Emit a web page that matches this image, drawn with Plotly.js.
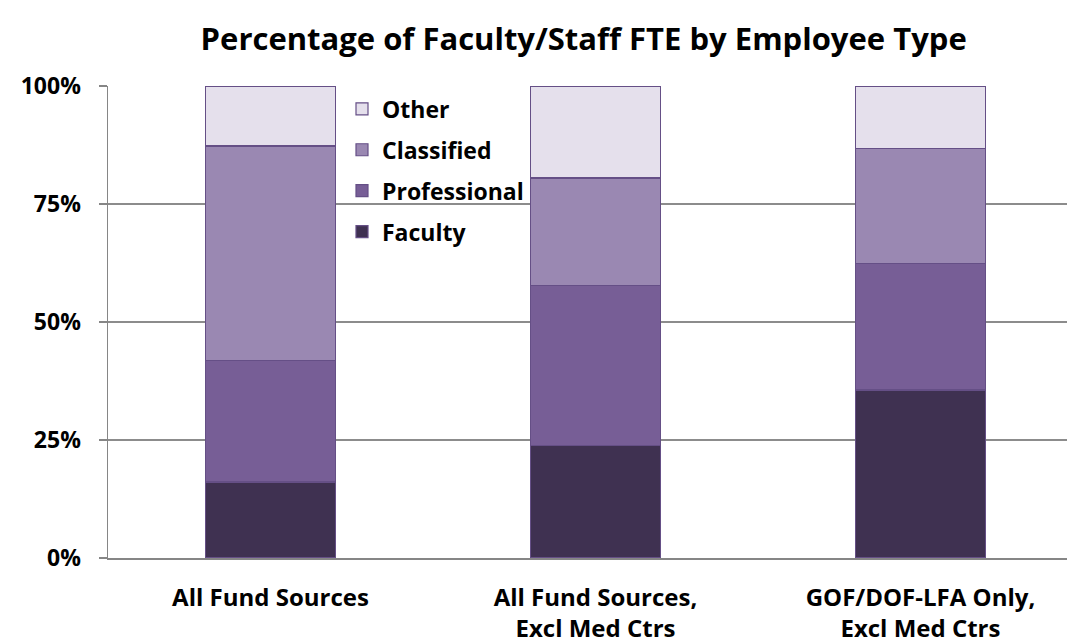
<!DOCTYPE html>
<html>
<head>
<meta charset="utf-8">
<script src="https://cdn.plot.ly/plotly-3.0.1.min.js"></script>
<style>
html,body{margin:0;padding:0;background:#fff;}
#chart{width:1067px;height:644px;}
</style>
</head>
<body>
<div id="chart"></div>
<script>
var categories = ["All Fund Sources", "All Fund Sources,<br>Excl Med Ctrs", "GOF/DOF-LFA Only,<br>Excl Med Ctrs"];
var faculty = [16.1, 23.9, 35.6];
var professional = [25.8, 33.9, 26.8];
var classified = [45.4, 22.7, 24.3];
var other = [12.7, 19.5, 13.3];
var seriesNames = ["Faculty", "Professional", "Classified", "Other"];
var seriesColors = ["#3F3151", "#775E96", "#9A88B2", "#E5E0EC"];
var yTickVals = [0, 25, 50, 75, 100];
var yTickText = ["0%", "25%", "50%", "75%", "100%"];

var xIdx = categories.map(function(_, i){ return i; });
var allSeries = [faculty, professional, classified, other];
var traces = allSeries.map(function(vals, k){
  return {
    type: "bar",
    name: seriesNames[k],
    x: xIdx,
    y: vals,
    width: 0.4,
    legendgroup: "g" + k,
    legendrank: 1000 - k,
    marker: {color: seriesColors[k], line: {color: "#654F86", width: 1.2}},
    hoverinfo: "y+name"
  };
});

var FONT = "'Open Sans', Lato, 'DejaVu Sans', sans-serif";
var layout = {
  width: 1067, height: 644,
  paper_bgcolor: "#fff", plot_bgcolor: "#fff",
  margin: {l: 108, r: 0, t: 86, b: 86},
  barmode: "stack",
  showlegend: true,
  title: {text: "<b>Percentage of Faculty/Staff FTE by Employee Type</b>",
          font: {family: FONT, size: 31, color: "#000"},
          x: 0.547, xanchor: "center", y: 0.939, yanchor: "middle"},
  legend: {x: 0.244, y: 0.997, xanchor: "left", yanchor: "top",
           traceorder: "grouped", tracegroupgap: 8,
           bgcolor: "rgba(0,0,0,0)",
           font: {family: FONT, size: 23, color: "#000", weight: "bold"},
           itemwidth: 30},
  xaxis: {
    range: [-0.5, 2.451],
    tickmode: "array", tickvals: xIdx, ticktext: categories.map(function(c){ return "<b>" + c + "</b>"; }),
    showgrid: false, zeroline: false,
    showline: true, linecolor: "#868686", linewidth: 2,
    ticks: "", ticklabelstandoff: 17,
    tickfont: {family: FONT, size: 24, color: "#000"},
    fixedrange: true
  },
  yaxis: {
    range: [0, 100],
    tickmode: "array", tickvals: yTickVals, ticktext: yTickText.map(function(t){ return "<b>" + t + "</b>"; }),
    showgrid: true, gridcolor: "#8C8C8C", gridwidth: 1.5,
    zeroline: false,
    showline: true, linecolor: "#868686", linewidth: 1.5,
    ticks: "outside", ticklen: 8, tickcolor: "#868686", tickwidth: 1.5,
    ticklabelstandoff: 13,
    tickfont: {family: FONT, size: 23, color: "#000"},
    fixedrange: true
  }
};

Plotly.newPlot("chart", traces, layout, {displayModeBar: false, staticPlot: true});
</script>
</body>
</html>
